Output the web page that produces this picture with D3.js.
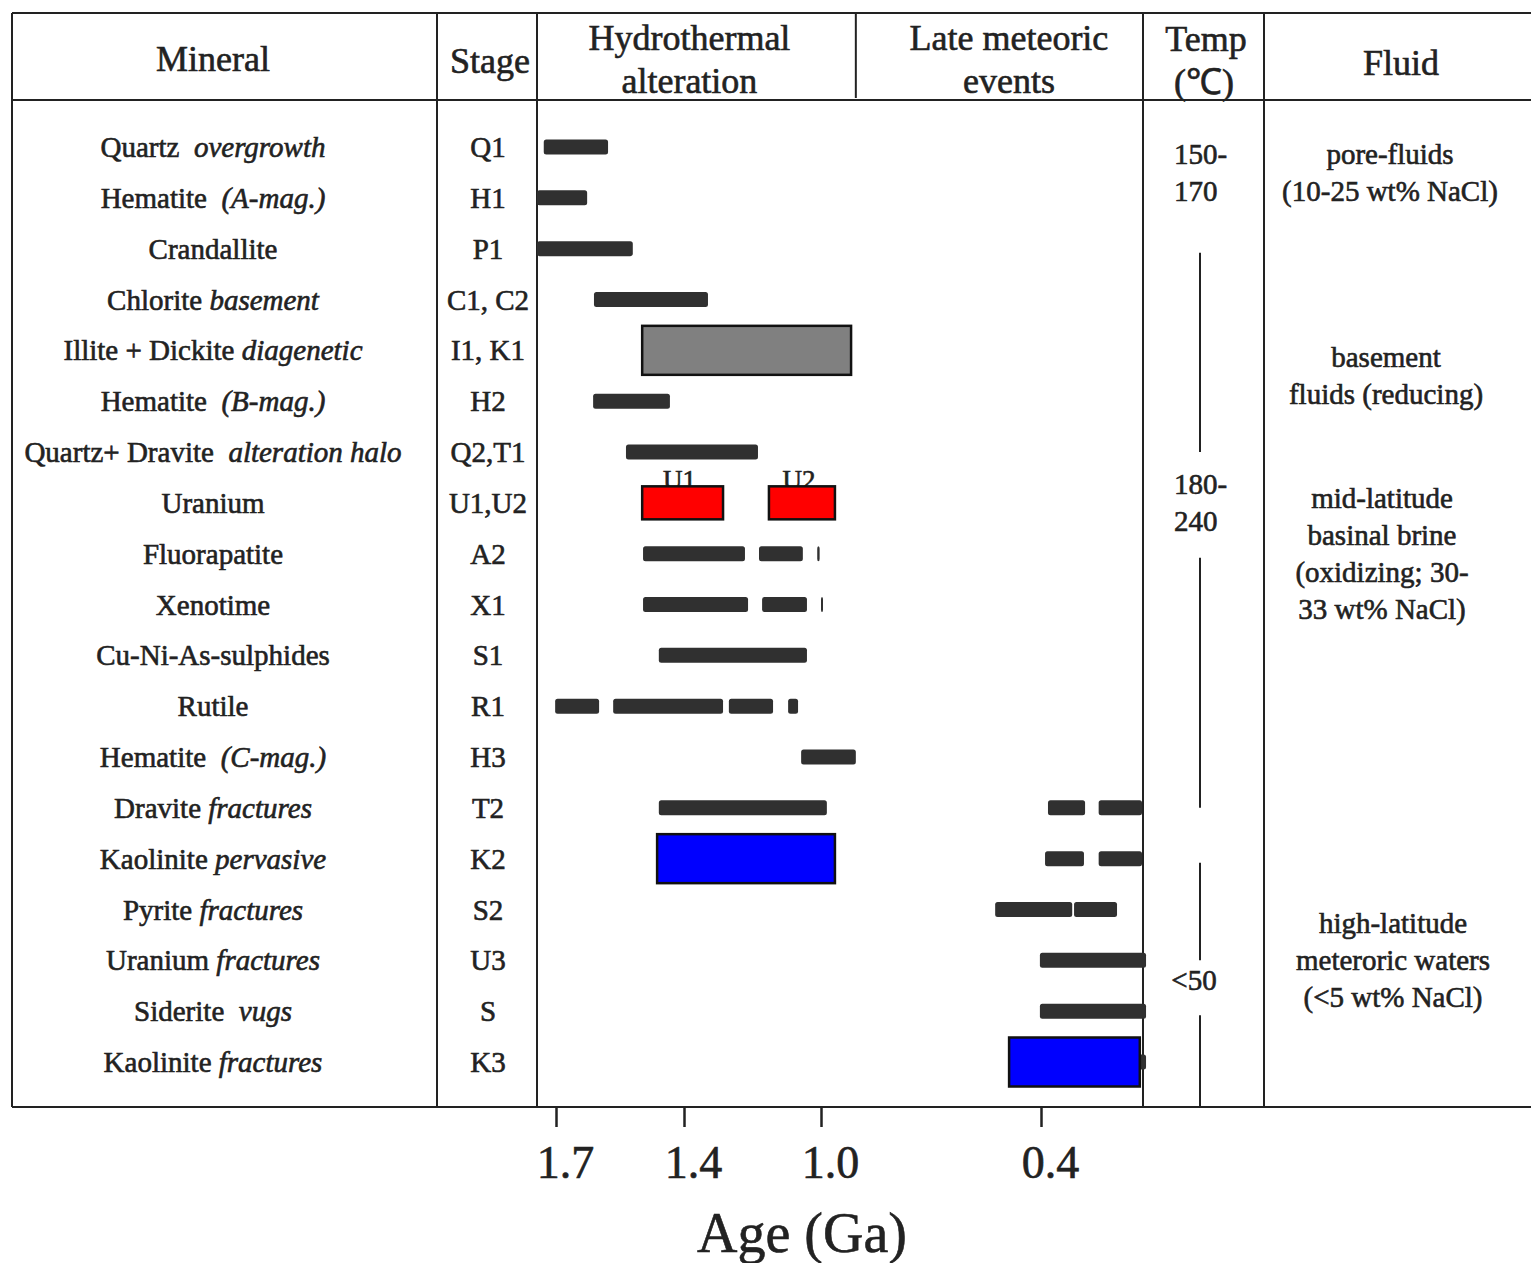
<!DOCTYPE html>
<html><head><meta charset="utf-8">
<script src="https://cdn.jsdelivr.net/npm/d3@7"></script>
<style>
html,body{margin:0;padding:0;background:#fff;}
svg{display:block;}
text{font-family:"Liberation Serif","Times New Roman",serif;fill:#222;stroke:#222;stroke-width:0.6px;}
</style></head><body>
<svg id="chart" width="1531" height="1263"></svg>
<script>
// ---------------- DATA ----------------
const stages = ["Q1","H1","P1","C1, C2","I1, K1","H2","Q2,T1","U1,U2","A2","X1","S1","R1","H3","T2","K2","S2","U3","S","K3"];
const mineralNames = ["Quartz","Hematite","Crandallite","Chlorite","Illite + Dickite","Hematite","Quartz+ Dravite","Uranium","Fluorapatite","Xenotime","Cu-Ni-As-sulphides","Rutile","Hematite","Dravite","Kaolinite","Pyrite","Uranium","Siderite","Kaolinite"];
const mineralQualifiers = ["  overgrowth","  (A-mag.)",""," basement"," diagenetic","  (B-mag.)","  alteration halo","","","","","","  (C-mag.)"," fractures"," pervasive"," fractures"," fractures","  vugs"," fractures"];
const ageTicks = [1.7, 1.4, 1.0, 0.4];
const ageBreaks = [1.745, 1.7, 1.4, 1.0, 0.4, 0.125];   // axis extent and non-linear anchors (Ga)

// dark duration bars: [stage, from (Ga), to (Ga)]
const bars = [
  ["Q1", 1.729, 1.578],
  ["H1", 1.745, 1.627],
  ["P1", 1.745, 1.520],
  ["C1, C2", 1.611, 1.330],
  ["H2", 1.613, 1.433],
  ["Q2,T1", 1.536, 1.184],
  ["A2", 1.496, 1.222], ["A2", 1.181, 1.053], ["A2", 1.011, 1.004],
  ["X1", 1.496, 1.213], ["X1", 1.172, 1.041], ["X1", 1.000, 0.995],
  ["S1", 1.459, 1.041],
  ["R1", 1.702, 1.599], ["R1", 1.566, 1.286], ["R1", 1.269, 1.140], ["R1", 1.096, 1.067],
  ["H3", 1.058, 0.905],
  ["T2", 1.459, 0.984], ["T2", 0.381, 0.280], ["T2", 0.243, 0.125],
  ["K2", 0.389, 0.283], ["K2", 0.243, 0.125],
  ["S2", 0.525, 0.315], ["S2", 0.310, 0.193],
  ["U3", 0.403, 0.114],
  ["S", 0.403, 0.114],
  ["K3", 0.403, 0.114]
];
// highlighted boxes: [stage, from, to, kind, label]
const boxes = [
  ["I1, K1", 1.498, 0.918, "illite", ""],
  ["U1,U2", 1.498, 1.286, "uranium", "U1"],
  ["U1,U2", 1.152, 0.962, "uranium", "U2"],
  ["K2", 1.463, 0.962, "kaolinite", ""],
  ["K3", 0.487, 0.131, "kaolinite", ""]
];
const eraNames = [["Hydrothermal","alteration"], ["Late meteoric","events"]];
const eraBounds = [[1.745, 0.905], [0.905, 0.125]];
const tempLabels = [["150-","170"], ["180-","240"], ["<50"]];
const tempAnchors = [["Q1","H1"], ["U1,U2","U1,U2"], ["U3","S"]];
const tempLineRows = [["P1","Q2,T1"], ["A2","T2"], ["K2","U3"], ["S", null]];
const fluidLabels = [
  ["pore-fluids","(10-25 wt% NaCl)"],
  ["basement","fluids (reducing)"],
  ["mid-latitude","basinal brine","(oxidizing; 30-","33 wt% NaCl)"],
  ["high-latitude","meteroric waters","(<5 wt% NaCl)"]
];
const fluidAnchors = [["Q1","H1"], ["I1, K1","H2"], ["U1,U2","X1"], ["U3","U3"]];

// ---------------- LAYOUT ----------------
const frame = {left: 12, top: 13, headBottom: 100, bottom: 1107, right: 1531};
const col = {stage: 437, plotL: 537, plotR: 1142, temp: 1143, fluid: 1264};
const ink = "#222";

const svg = d3.select("#chart");

const x = d3.scaleLinear().domain(ageBreaks)
  .range([col.plotL, 556, 684, 821, 1041, col.plotR]);
const y = d3.scalePoint().domain(stages).range([147, 1062]);

const styles = {
  illite:   {fill: "#808080", h: 49},
  uranium:  {fill: "#ff0000", h: 33},
  kaolinite:{fill: "#0000ff", h: 49}
};

// ---------------- GRID ----------------
const g = svg.append("g");
function line(x1,y1,x2,y2,w){ g.append("line").attr("x1",x1).attr("y1",y1).attr("x2",x2).attr("y2",y2)
  .attr("stroke",ink).attr("stroke-width",w||2); }
line(frame.left, frame.top, frame.right, frame.top);
line(frame.left, frame.headBottom, frame.right, frame.headBottom);
line(frame.left, frame.bottom, frame.right, frame.bottom);
line(frame.left, frame.top, frame.left, frame.bottom);
[col.stage, col.plotL, col.temp, col.fluid].forEach(cx => line(cx, frame.top, cx, frame.bottom));
line(x(eraBounds[0][1]), frame.top, x(eraBounds[0][1]), frame.headBottom - 2);

// ---------------- HEADER ----------------
const hfs = 36;
function headText(txt, cx, cy){
  svg.append("text").attr("x",cx).attr("y",cy).attr("text-anchor","middle")
    .attr("font-size",hfs).attr("dy","0.35em").text(txt);
}
headText("Mineral", 213, 58);
headText("Stage", 490, 60);
eraNames.forEach((nm,i)=>{
  const cx = (x(eraBounds[i][0])+x(eraBounds[i][1]))/2 + (i===0 ? -7 : 10);
  headText(nm[0], cx, 37);
  headText(nm[1], cx, 80);
});
headText("Temp", 1206, 38);
headText("(\u2103)", 1204, 81);
headText("Fluid", 1401, 62);

// ---------------- ROW LABELS ----------------
const fs = 29;
const lab = svg.append("g");
stages.forEach((s,i)=>{
  const t = lab.append("text").attr("x",213).attr("y",y(s)).attr("dy","0.35em")
    .attr("text-anchor","middle").attr("font-size",fs).attr("xml:space","preserve");
  t.append("tspan").text(mineralNames[i]);
  if (mineralQualifiers[i]) t.append("tspan").attr("font-style","italic").text(mineralQualifiers[i]);
  lab.append("text").attr("x",488).attr("y",y(s)).attr("dy","0.35em")
    .attr("text-anchor","middle").attr("font-size",fs).text(s);
});

// ---------------- BARS ----------------
const plot = svg.append("g");
// box labels (partly hidden behind boxes)
plot.selectAll("text.blab").data(boxes.filter(b=>b[4])).join("text")
  .attr("class","blab")
  .attr("x", d => (x(d[1])+x(d[2]))/2 - 3)
  .attr("y", d => y(d[0]) - styles[d[3]].h/2 + 3)
  .attr("text-anchor","middle").attr("font-size",27).text(d=>d[4]);

plot.selectAll("rect.bar").data(bars).join("rect")
  .attr("class","bar")
  .attr("x", d => x(d[1]))
  .attr("width", d => Math.max(2, x(d[2]) - x(d[1])))
  .attr("y", d => y(d[0]) - 7.5)
  .attr("height", 15)
  .attr("rx", 2.5)
  .attr("fill", "#303030");

plot.selectAll("rect.box").data(boxes).join("rect")
  .attr("class","box")
  .attr("x", d => x(d[1]))
  .attr("width", d => x(d[2]) - x(d[1]))
  .attr("y", d => y(d[0]) - styles[d[3]].h/2)
  .attr("height", d => styles[d[3]].h)
  .attr("fill", d => styles[d[3]].fill)
  .attr("stroke", "#111").attr("stroke-width", 2.5);

// ---------------- TEMPERATURE ----------------
const tcx = 1200;
tempLineRows.forEach(([a,b])=>{
  const y1 = y(a) + 4;
  const y2 = b ? y(b) : frame.bottom;
  line(tcx, y1, tcx, y2, 2);
});
tempLabels.forEach((lines,i)=>{
  const [a,b] = tempAnchors[i];
  const cy = (y(a)+y(b))/2 - (lines.length===1 ? 6 : 0);
  const lh = 37;
  lines.forEach((t,j)=>{
    const ly = cy + (j - (lines.length-1)/2)*lh;
    svg.append("text").attr("x", lines.length===1 ? 1194 : 1174).attr("y",ly).attr("dy","0.35em")
      .attr("text-anchor", lines.length===1 ? "middle" : "start").attr("font-size",fs).text(t);
  });
});

// ---------------- FLUID ----------------
const fluidX = [1390, 1386, 1382, 1393];
fluidLabels.forEach((lines,i)=>{
  const [a,b] = fluidAnchors[i];
  const cy = (y(a)+y(b))/2;
  const lh = 37;
  lines.forEach((t,j)=>{
    svg.append("text").attr("x",fluidX[i]).attr("y",cy + (j-(lines.length-1)/2)*lh).attr("dy","0.35em")
      .attr("text-anchor","middle").attr("font-size",fs).text(t);
  });
});

// ---------------- AXIS ----------------
const xAxis = d3.axisBottom(x).tickValues(ageTicks).tickFormat(d3.format(".1f")).tickSize(20);
const gAx = svg.append("g").attr("transform",`translate(0,${frame.bottom})`).call(xAxis);
gAx.attr("font-family",null).attr("font-size",null);
gAx.select(".domain").remove();
gAx.selectAll(".tick line").attr("stroke",ink).attr("stroke-width",2.5);
gAx.selectAll(".tick text").attr("fill",ink).attr("font-size",46)
  .attr("y",71).attr("dy",0).attr("dx",9);
svg.append("text").attr("x",802).attr("y",1252).attr("text-anchor","middle")
  .attr("font-size",56).text("Age (Ga)");
</script>
</body></html>
